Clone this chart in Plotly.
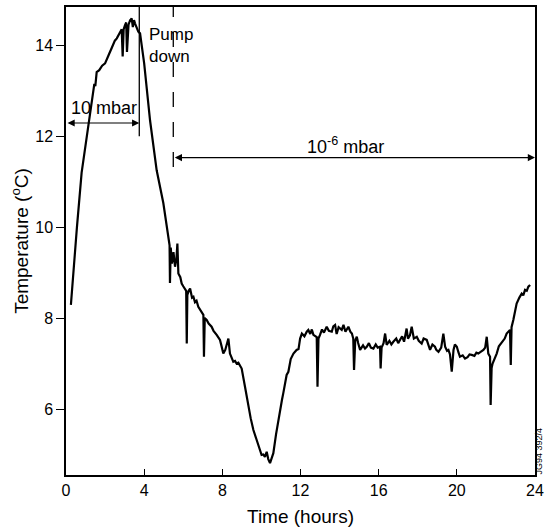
import plotly.graph_objects as go

# Time (hours) and temperature (deg C)
time_h = [
    0.25, 0.4, 0.56, 0.8, 1.07, 1.25, 1.38, 1.45, 1.5, 1.57, 1.7, 1.85, 2.0, 2.08, 2.2,
    2.35, 2.5, 2.6, 2.76, 2.85, 2.9, 2.95, 3.02, 3.08, 3.12, 3.2, 3.28, 3.36, 3.42, 3.48,
    3.53, 3.6, 3.7, 3.79, 4.0, 4.3, 4.64, 4.98, 5.1, 5.24, 5.3, 5.32, 5.36, 5.42, 5.5,
    5.58, 5.65, 5.7, 5.75, 5.85, 5.92, 6.0, 6.09, 6.15, 6.18, 6.21, 6.28, 6.35, 6.45, 6.52,
    6.6, 6.68, 6.77, 6.85, 6.95, 7.03, 7.06, 7.1, 7.2, 7.3, 7.45, 7.55, 7.71, 7.8, 7.88,
    7.95, 8.05, 8.15, 8.31, 8.39, 8.48, 8.56, 8.65, 8.73, 8.82, 8.9, 8.99, 9.16, 9.33, 9.45,
    9.59, 9.7, 9.84, 9.92, 10.01, 10.1, 10.18, 10.27, 10.35, 10.44, 10.52, 10.61, 10.75, 10.86, 10.95,
    11.05, 11.12, 11.21, 11.29, 11.38, 11.5, 11.64, 11.8, 11.9, 11.98, 12.07, 12.2, 12.32, 12.4, 12.5,
    12.58, 12.66, 12.75, 12.83, 12.87, 12.92, 13.0, 13.1, 13.2, 13.34, 13.45, 13.6, 13.68, 13.77, 13.85,
    13.95, 14.11, 14.2, 14.3, 14.45, 14.55, 14.63, 14.7, 14.74, 14.8, 14.88, 14.95, 15.05, 15.2, 15.3,
    15.39, 15.5, 15.6, 15.73, 15.85, 15.95, 16.07, 16.1, 16.15, 16.25, 16.33, 16.41, 16.55, 16.65, 16.75,
    16.9, 17.0, 17.09, 17.2, 17.3, 17.43, 17.5, 17.6, 17.69, 17.8, 17.95, 18.05, 18.2, 18.3, 18.46,
    18.55, 18.63, 18.75, 18.88, 18.95, 19.06, 19.2, 19.31, 19.4, 19.5, 19.57, 19.65, 19.74, 19.83, 19.9,
    20.0, 20.08, 20.16, 20.3, 20.42, 20.55, 20.65, 20.76, 20.9, 21.0, 21.1, 21.2, 21.36, 21.45, 21.53,
    21.61, 21.7, 21.73, 21.78, 21.83, 21.95, 22.04, 22.15, 22.3, 22.45, 22.55, 22.65, 22.72, 22.76, 22.8,
    22.89, 23.0, 23.06, 23.2, 23.32, 23.4, 23.49, 23.58, 23.66, 23.75,
]
temp_c = [
    8.29, 9.2, 10.0, 11.2, 12.0, 12.6, 13.0, 13.15, 13.1, 13.41, 13.45, 13.55, 13.6, 13.67, 13.8,
    13.95, 14.1, 14.15, 14.26, 14.35, 13.75, 14.35, 14.44, 14.5, 13.85, 14.45, 14.55, 14.59, 14.4, 14.55,
    14.48, 14.4, 14.3, 14.26, 13.6, 12.35, 11.25, 10.53, 10.15, 9.79, 9.6, 8.77, 9.55, 9.2, 9.45,
    9.13, 9.3, 9.64, 8.98, 8.9, 8.76, 8.7, 8.62, 8.6, 7.44, 8.51, 8.6, 8.65, 8.45, 8.47,
    8.35, 8.38, 8.25, 8.2, 8.12, 8.07, 7.15, 8.0, 7.96, 7.88, 7.81, 7.72, 7.63, 7.58, 7.52,
    7.4, 7.22, 7.3, 7.55, 7.22, 7.1, 7.04, 7.06, 7.0, 7.02, 6.95, 6.89, 6.49, 6.05, 5.8,
    5.54, 5.4, 5.25, 5.1, 4.99, 5.0, 4.95, 5.06, 4.9, 4.81, 4.9, 5.03, 5.45, 5.76, 5.98,
    6.2, 6.35, 6.56, 6.75, 6.82, 7.1, 7.22, 7.3, 7.32, 7.55, 7.66, 7.6, 7.7, 7.74, 7.65,
    7.75, 7.63, 7.6, 7.58, 6.49, 7.55, 7.63, 7.75, 7.68, 7.81, 7.72, 7.7, 7.82, 7.85, 7.65,
    7.8, 7.74, 7.85, 7.7, 7.81, 7.7, 7.66, 7.55, 6.86, 7.5, 7.59, 7.45, 7.3, 7.4, 7.33,
    7.37, 7.45, 7.35, 7.33, 7.42, 7.35, 7.37, 6.89, 7.35, 7.45, 7.66, 7.41, 7.5, 7.42, 7.48,
    7.55, 7.45, 7.52, 7.6, 7.48, 7.77, 7.55, 7.62, 7.81, 7.55, 7.59, 7.5, 7.44, 7.55, 7.52,
    7.4, 7.3, 7.42, 7.37, 7.3, 7.26, 7.35, 7.66, 7.37, 7.28, 7.3, 7.2, 6.82, 7.3, 7.42,
    7.37, 7.25, 7.15, 7.18, 7.11, 7.14, 7.2, 7.19, 7.17, 7.24, 7.22, 7.25, 7.3, 7.35, 7.59,
    7.22, 7.15, 6.09, 6.9, 7.0, 7.12, 7.22, 7.38, 7.48, 7.55, 7.66, 7.72, 7.74, 6.97, 7.8,
    7.96, 8.2, 8.32, 8.45, 8.54, 8.5, 8.62, 8.6, 8.69, 8.73,
]

x_ticks = [0, 4, 8, 12, 16, 20, 24]
y_ticks = [6, 8, 10, 12, 14]

# pressure phases
vent_end = 3.75       # end of 10 mbar phase
pump_down = 5.49      # dashed line, start of 10^-6 mbar phase
arrow1_T = 12.29
arrow2_T = 11.53

font = "Liberation Sans, Arial, sans-serif"

fig = go.Figure()
fig.add_trace(go.Scatter(x=time_h, y=temp_c, mode="lines",
                         line=dict(color="black", width=2.2), showlegend=False))

# vertical markers
fig.add_shape(type="line", x0=vent_end, x1=vent_end, y0=12.0, y1=14.84,
              line=dict(color="black", width=1.3))
fig.add_shape(type="line", x0=pump_down, x1=pump_down, y0=11.32, y1=14.84,
              line=dict(color="black", width=1.3, dash="longdash"))

# double-headed arrows
for x0, x1, yy in [(0, vent_end, arrow1_T), (pump_down, 24, arrow2_T)]:
    fig.add_annotation(x=x1, y=yy, ax=x0, ay=yy, xref="x", yref="y", axref="x", ayref="y",
                       text="", showarrow=True, arrowhead=2, arrowside="end+start",
                       arrowwidth=1.2, arrowsize=1.2, arrowcolor="black")

fig.add_annotation(x=1.95, y=12.62, text="10 mbar", showarrow=False,
                   font=dict(family=font, size=18, color="black"))
fig.add_annotation(x=14.3, y=11.8, text="10<sup>-6</sup> mbar", showarrow=False,
                   font=dict(family=font, size=18, color="black"))
fig.add_annotation(x=4.15, y=14.0, text="Pump<br>down", showarrow=False, xanchor="left",
                   align="left", font=dict(family=font, size=17, color="black"))
fig.add_annotation(x=1.0085, y=0.0, xref="paper", yref="paper", text="JG94 392/4",
                   textangle=-90, showarrow=False, xanchor="center", yanchor="bottom",
                   borderpad=0, font=dict(family=font, size=9, color="black"))

fig.update_layout(
    width=545, height=529,
    margin=dict(l=66, r=10, t=7, b=54),
    plot_bgcolor="white", paper_bgcolor="white",
    font=dict(family=font, size=16, color="black"),
)
fig.update_xaxes(range=[0, 24], tickvals=x_ticks, ticks="inside", ticklen=6,
                 tickcolor="black", showline=True, linecolor="black", linewidth=1.5,
                 mirror=True, showgrid=False, zeroline=False, automargin=False,
                 title=dict(text="Time (hours)", standoff=12))
fig.update_yaxes(range=[4.55, 14.84], tickvals=y_ticks, ticks="outside", ticklen=8,
                 tickcolor="black", showline=True, linecolor="black", linewidth=1.5,
                 mirror=True, showgrid=False, zeroline=False, automargin=False,
                 title=dict(text="Temperature (<sup>o</sup>C)", standoff=2))

# drop the default page margin so the figure fills the window
fig.write_html("out.html", config={"displayModeBar": False},
               post_script="document.body.style.margin='0';")
